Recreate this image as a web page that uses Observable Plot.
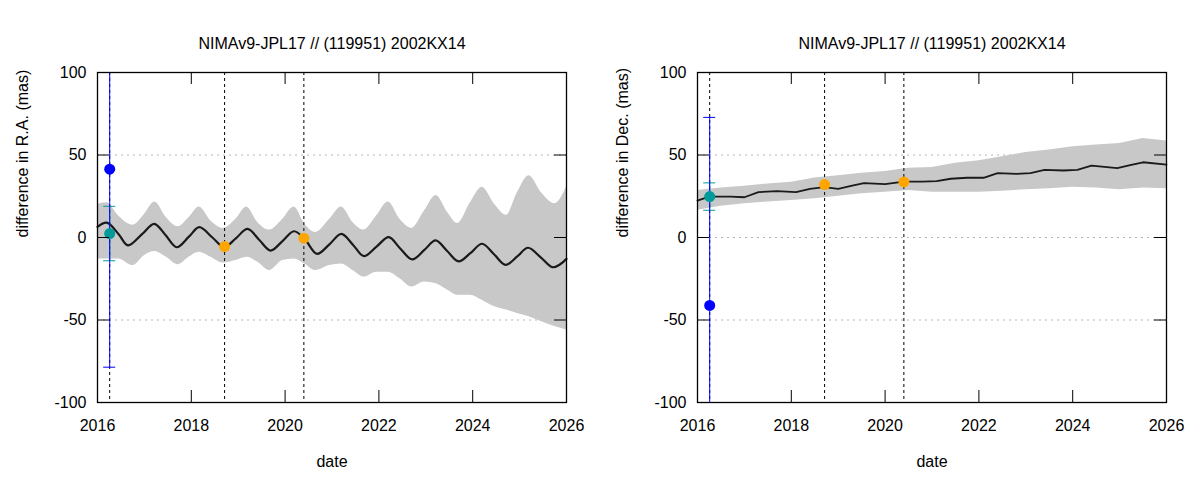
<!DOCTYPE html>
<html><head><meta charset="utf-8">
<script src="https://cdn.jsdelivr.net/npm/d3@7"></script>
<script src="https://cdn.jsdelivr.net/npm/@observablehq/plot@0.6"></script>
<style>
body{margin:0;background:#fff;}
#wrap{display:flex;width:1200px;height:480px;}
</style></head><body><div id="wrap"></div>
<script>
const title = "NIMAv9-JPL17 // (119951) 2002KX14";
const xTicks = [2016, 2018, 2020, 2022, 2024, 2026];
const yTicks = [-100, -50, 0, 50, 100];
const gridY = [-50, 0, 50];
const obsDates = [2016.26, 2018.71, 2020.40];

// ---- R.A. panel ----
const raLineDate = [2016.0, 2016.2, 2016.45, 2016.65, 2016.95, 2017.21, 2017.45, 2017.69, 2017.95, 2018.17, 2018.45, 2018.70, 2018.95, 2019.2, 2019.45, 2019.69, 2019.95, 2020.19, 2020.42, 2020.68, 2020.95, 2021.2, 2021.45, 2021.68, 2021.95, 2022.21, 2022.45, 2022.71, 2022.97, 2023.21, 2023.45, 2023.70, 2023.95, 2024.2, 2024.45, 2024.70, 2024.95, 2025.18, 2025.45, 2025.70, 2025.85, 2026.0];
const raLineVal = [6.5, 9, 2, -4.8, 2, 8.3, 1.5, -5.9, 0.5, 6.3, 0, -5.9, -0.5, 5.2, -1.5, -7.9, -2, 3.8, -1, -9.9, -4, 2.2, -4.5, -11.3, -5.5, 0.2, -6.5, -13.3, -7.5, -1.8, -8, -14.5, -9.5, -3.8, -10, -16.6, -11.5, -6.2, -12, -18, -16.5, -12.9];
const raBandDate = [2016.0, 2016.2, 2016.45, 2016.75, 2017.0, 2017.22, 2017.47, 2017.72, 2017.95, 2018.17, 2018.42, 2018.68, 2018.95, 2019.18, 2019.42, 2019.67, 2019.95, 2020.19, 2020.42, 2020.65, 2020.95, 2021.2, 2021.45, 2021.68, 2021.95, 2022.2, 2022.45, 2022.7, 2022.97, 2023.22, 2023.47, 2023.68, 2023.95, 2024.2, 2024.47, 2024.72, 2024.95, 2025.2, 2025.47, 2025.75, 2026.0];
const raBandHi = [20, 21, 13, 7.5, 14, 21.5, 12, 6.5, 12, 18.5, 10, 5.5, 11, 18.5, 9, 4.5, 11, 18.5, 8, 3, 11, 18.5, 9, 4.5, 13, 21.5, 11, 5.5, 16, 25.5, 15, 8.5, 21, 30.5, 20, 13.5, 27, 37.5, 27, 20.5, 30.5];
const raBandLo = [-13, -13, -13, -17, -11, -8.5, -12, -16.5, -12, -9, -12, -15.5, -14, -12, -15, -20, -14, -13, -16, -20, -17, -16, -20, -24, -21, -21, -25, -30, -27, -28, -32, -35, -35, -38, -42, -44, -46, -48, -51, -54, -56];
const raBlue = [2016.26, 41.4, 120];   // date, value, error
const raTeal = [2016.26, 2.4, 16.5];
const raOrangeDate = [2018.71, 2020.40];
const raOrangeVal = [-5.5, -0.4];

// ---- Dec. panel ----
const deLineDate = [2016.0, 2016.25, 2016.7, 2017.0, 2017.3, 2017.7, 2018.1, 2018.4, 2018.7, 2019.0, 2019.3, 2019.55, 2020.0, 2020.4, 2020.8, 2021.1, 2021.4, 2021.75, 2022.1, 2022.4, 2022.8, 2023.1, 2023.4, 2023.8, 2024.1, 2024.4, 2024.95, 2025.25, 2025.5, 2026.0];
const deLineVal = [22.4, 24.8, 24.8, 24.4, 27.5, 28.1, 27.5, 29.5, 30.5, 29.5, 31.5, 32.9, 32.4, 33.9, 33.9, 34.2, 35.6, 36.2, 36.2, 39, 38.6, 39, 41, 40.6, 41, 43.6, 42, 44, 45.6, 44.2];
const deBandDate = [2016.0, 2016.5, 2017.0, 2017.5, 2018.0, 2018.5, 2019.0, 2019.5, 2020.0, 2020.5, 2021.0, 2021.5, 2022.0, 2022.5, 2023.0, 2023.5, 2024.0, 2024.5, 2025.0, 2025.5, 2026.0];
const deBandHi = [28.5, 30, 31, 32.5, 33.5, 36, 37.5, 39, 40, 42, 42.5, 45, 46.5, 49, 51.5, 53, 55, 56, 57, 60, 58.5];
const deBandLo = [16.5, 19, 20.5, 21.5, 22.5, 23.5, 25, 26.5, 27.5, 28.5, 27.5, 27.5, 27.5, 28, 29, 29.5, 30.5, 30, 29, 30, 29.5];
const deBlue = [2016.26, -41.2, 114];
const deTeal = [2016.26, 24.8, 8.3];
const deOrangeDate = [2018.71, 2020.40];
const deOrangeVal = [32.1, 33.7];

const FONT = "'Liberation Sans', Arial, Helvetica, sans-serif";
const FS = 16;
const BLUE = "#0000ff", TEAL = "#009a9a", ORANGE = "#ffa500";

function errMarks(e, color) {
  const d = [{date: e[0], val: e[1], err: e[2]}];
  const caps = [e[1] - e[2], e[1] + e[2]].filter(v => v >= -100 && v <= 100).map(v => ({date: e[0], v}));
  return [
    Plot.ruleX(d, {x: "date", y1: r => r.val - r.err, y2: r => r.val + r.err, stroke: color, strokeWidth: 1, clip: true}),
    Plot.ruleY(caps, {x1: "date", x2: "date", y: "v", stroke: color, strokeWidth: 1, insetLeft: -6, insetRight: -6})
  ];
}

function panel(p) {
  const line = p.lineDate.map((d, i) => ({date: d, v: p.lineVal[i]}));
  const band = p.bandDate.map((d, i) => ({date: d, lo: p.bandLo[i], hi: p.bandHi[i]}));
  const orange = p.oDate.map((d, i) => ({date: d, v: p.oVal[i]}));
  const txt = {fill: "black", fontSize: FS, fontFamily: FONT};
  return Plot.plot({
    width: 600, height: 480,
    marginLeft: 97, marginRight: 34, marginTop: 72, marginBottom: 78,
    x: {domain: [2016, 2026], axis: null},
    y: {domain: [-100, 100], axis: null},
    style: {fontFamily: FONT, fontSize: "16px", background: "white", color: "black", overflow: "visible"},
    marks: [
      Plot.ruleY(gridY, {stroke: "#b4b4b4", strokeDasharray: "2,4", strokeWidth: 1}),
      Plot.areaY(band, {x: "date", y1: "lo", y2: "hi", fill: "#c8c8c8", curve: p.bandCurve}),
      Plot.ruleX(obsDates, {stroke: "black", strokeDasharray: "3,3", strokeWidth: 1}),
      Plot.line(line, {x: "date", y: "v", stroke: "#1a1a1a", strokeWidth: p.lineWidth, curve: p.curve}),
      ...errMarks(p.teal, TEAL),
      ...errMarks(p.blue, BLUE),
      Plot.dot(orange, {x: "date", y: "v", r: 5.5, fill: ORANGE}),
      Plot.dot([p.blue], {x: d => d[0], y: d => d[1], r: 5.5, fill: BLUE}),
      Plot.dot([p.teal], {x: d => d[0], y: d => d[1], r: 5.5, fill: TEAL}),
      Plot.frame({stroke: "black", strokeWidth: 1.3}),
      // inward ticks
      Plot.ruleX(xTicks, {x: d => d, y1: -100, y2: -100, insetTop: -12, stroke: "black"}),
      Plot.ruleX(xTicks, {x: d => d, y1: 100, y2: 100, insetBottom: -12, stroke: "black"}),
      Plot.ruleY(yTicks, {y: d => d, x1: 2016, x2: 2016, insetRight: -12, stroke: "black"}),
      Plot.ruleY(yTicks, {y: d => d, x1: 2026, x2: 2026, insetLeft: -12, stroke: "black"}),
      // tick labels
      Plot.text(xTicks, {x: d => d, text: d => String(d), frameAnchor: "bottom", dy: 28, ...txt}),
      Plot.text(yTicks, {y: d => d, text: d => String(d), frameAnchor: "left", dx: -11, textAnchor: "end", ...txt}),
      // axis titles and title
      Plot.text([p.ylabel], {text: d => d, frameAnchor: "left", dx: -75, rotate: -90, ...txt}),
      Plot.text(["date"], {text: d => d, frameAnchor: "bottom", dy: 64, ...txt}),
      Plot.text([title], {text: d => d, frameAnchor: "top", dy: -35, ...txt})
    ]
  });
}

const wrap = document.getElementById("wrap");
wrap.append(panel({
  lineDate: raLineDate, lineVal: raLineVal,
  bandDate: raBandDate, bandLo: raBandLo, bandHi: raBandHi,
  blue: raBlue, teal: raTeal, oDate: raOrangeDate, oVal: raOrangeVal,
  ylabel: "difference in R.A. (mas)", curve: "catmull-rom", bandCurve: "monotone-x", lineWidth: 2.2
}));
wrap.append(panel({
  lineDate: deLineDate, lineVal: deLineVal,
  bandDate: deBandDate, bandLo: deBandLo, bandHi: deBandHi,
  blue: deBlue, teal: deTeal, oDate: deOrangeDate, oVal: deOrangeVal,
  ylabel: "difference in Dec. (mas)", curve: "linear", bandCurve: "linear", lineWidth: 1.8
}));
</script></body></html>
